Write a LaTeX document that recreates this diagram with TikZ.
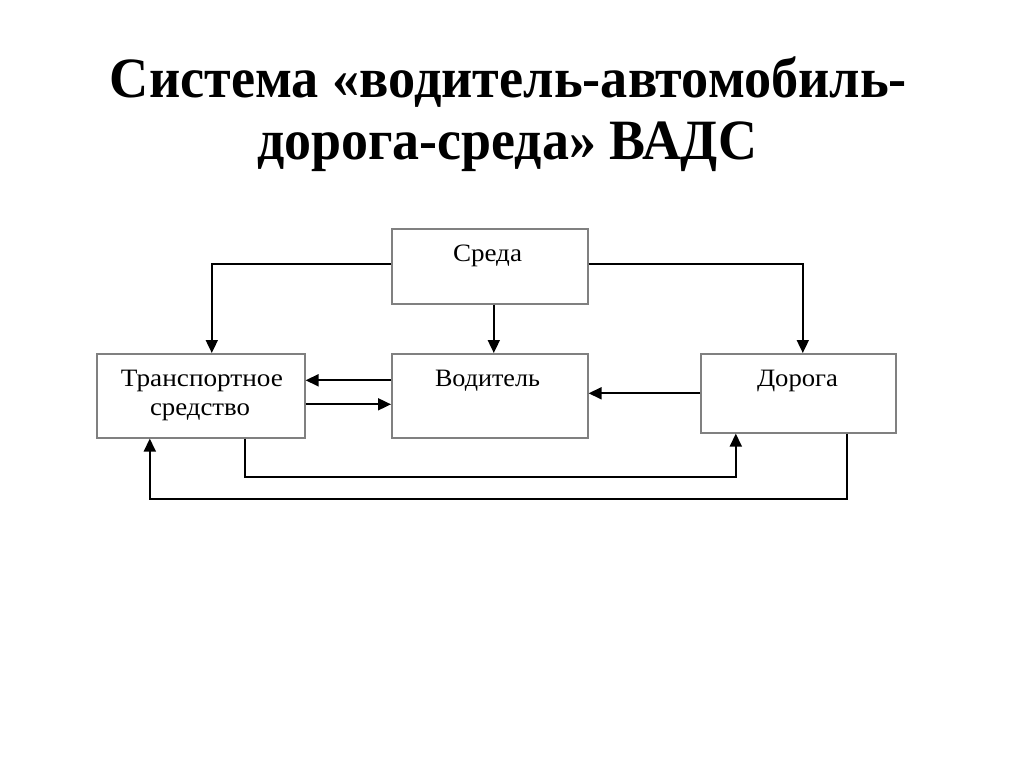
\documentclass[tikz,border=0pt]{standalone}
\usepackage{fontspec}
\setmainfont{Liberation Serif}
\usetikzlibrary{arrows.meta}
\newcommand{\fitw}[2]{\resizebox{#1}{\height}{#2}}
\begin{document}
\begin{tikzpicture}[x=1pt,y=-1pt,
  boxstyle/.style={draw=black!50, line width=1.6pt, fill=white, rectangle, inner sep=0pt, anchor=north west},
  lbl/.style={font=\fontsize{25}{30}\selectfont, inner sep=0pt, anchor=base},
  conn/.style={draw=black, line width=1.8pt, -{Triangle[length=13pt,width=12pt]}},
  titlestyle/.style={font=\fontsize{57}{60}\selectfont\bfseries, inner sep=0pt, anchor=base}]
\useasboundingbox[fill=white] (0,0) rectangle (1024,767);
% title
\node[titlestyle] (title1) at (508.5,98) {\fitw{797pt}{Система «водитель-автомобиль-}};
\node[titlestyle] (title2) at (507,160) {\fitw{500pt}{дорога-среда» ВАДС}};
% boxes
\node[boxstyle, minimum width=196pt, minimum height=75pt] (sreda) at (391,228) {};
\node[boxstyle, minimum width=208pt, minimum height=84pt] (trans) at (96,353) {};
\node[boxstyle, minimum width=196pt, minimum height=84pt] (vod) at (391,353) {};
\node[boxstyle, minimum width=195pt, minimum height=79pt] (dor) at (700,353) {};
% labels
\node[lbl] (tsreda) at (487.5,261) {\fitw{69pt}{Среда}};
\node[lbl] (tvod) at (487.5,386) {\fitw{105pt}{Водитель}};
\node[lbl] (tdor) at (797.5,386) {\fitw{81pt}{Дорога}};
\node[lbl] (ttrans1) at (202,386) {\fitw{162pt}{Транспортное}};
\node[lbl] (ttrans2) at (200,415) {\fitw{100pt}{средство}};
% connectors
\draw[conn] ([yshift=2.5pt]sreda.west) -| ([xshift=11pt]trans.north);
\draw[conn] ([yshift=2.5pt]sreda.east) -| ([xshift=4.5pt]dor.north);
\draw[conn] ([xshift=4pt]sreda.south) -- ([xshift=4pt]vod.north);
\draw[conn] ([yshift=15.5pt]vod.west) -- ([yshift=15.5pt]trans.east);
\draw[conn] ([yshift=-8.5pt]trans.east) -- ([yshift=-8.5pt]vod.west);
\draw[conn] (dor.west) -- (dor.west -| vod.east);
\draw[conn] ([xshift=44pt]trans.south) -- ++(0,38) -| ([xshift=-62.5pt]dor.south);
\draw[conn] ([xshift=48.5pt]dor.south) -- ++(0,65) -| ([xshift=-51pt]trans.south);
\end{tikzpicture}
\end{document}
